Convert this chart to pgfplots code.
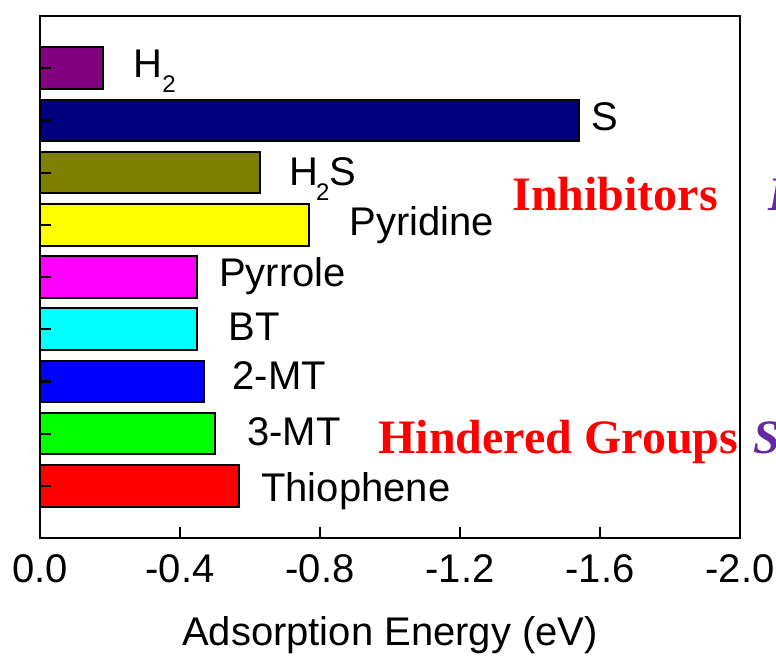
\documentclass[border=0pt]{standalone}
\usepackage{fontspec}
\setmainfont{Liberation Sans}
\newfontfamily\timesf{Liberation Serif}
\usepackage{pgfplots}
\pgfplotsset{compat=1.18}
\definecolor{cHtwo}{RGB}{128,0,128}
\definecolor{cS}{RGB}{0,0,128}
\definecolor{cHtwoS}{RGB}{128,128,0}
\definecolor{cPyd}{RGB}{255,255,0}
\definecolor{cPyr}{RGB}{255,0,255}
\definecolor{cBT}{RGB}{0,255,255}
\definecolor{cTwoMT}{RGB}{0,0,255}
\definecolor{cThreeMT}{RGB}{0,255,0}
\definecolor{cTh}{RGB}{255,0,0}
\definecolor{cPurple}{RGB}{100,40,160}
\newcommand{\sub}[1]{\raisebox{-7.5pt}{\fontsize{12}{14}\selectfont #1}}
\begin{document}
\fontsize{20}{24}\selectfont
\begin{tikzpicture}
\begin{axis}[
  at={(20pt,58.5pt)}, anchor=south west,
  scale only axis, width=350pt, height=261pt,
  xmin=-2, xmax=0, x dir=reverse,
  ymin=-1, ymax=9,
  xbar, bar width=0.8, bar shift=0pt,
  axis on top=true,
  xtick={-2,-1.6,-1.2,-0.8,-0.4,0},
  xticklabels={-2.0,-1.6,-1.2,-0.8,-0.4,0.0},
  ytick={0,1,2,3,4,5,6,7,8}, yticklabels={},
  tick align=inside, xtick pos=bottom, ytick pos=left,
  major tick length=5.5pt,
  axis line style={line width=1pt},
  tick style={line width=1.1pt, black},
  xticklabel style={anchor=base, yshift=-22pt, font=\fontsize{20}{24}\selectfont},
  xlabel={Adsorption Energy (eV)},
  xlabel style={at={(axis description cs:0.5,0)}, anchor=base, yshift=-53.5pt, font=\fontsize{20}{24}\selectfont},
  clip=false,
]
\addplot[fill=cTh, draw=black, line width=1pt] coordinates {(-0.57,0)};
\addplot[fill=cThreeMT, draw=black, line width=1pt] coordinates {(-0.50,1)};
\addplot[fill=cTwoMT, draw=black, line width=1pt] coordinates {(-0.47,2)};
\addplot[fill=cBT, draw=black, line width=1pt] coordinates {(-0.45,3)};
\addplot[fill=cPyr, draw=black, line width=1pt] coordinates {(-0.45,4)};
\addplot[fill=cPyd, draw=black, line width=1pt] coordinates {(-0.77,5)};
\addplot[fill=cHtwoS, draw=black, line width=1pt] coordinates {(-0.63,6)};
\addplot[fill=cS, draw=black, line width=1pt] coordinates {(-1.54,7)};
\addplot[fill=cHtwo, draw=black, line width=1pt] coordinates {(-0.18,8)};

\node[anchor=base west, inner sep=0] at (axis cs:-0.266,7.83) {H\sub{2}};
\node[anchor=base west, inner sep=0] at (axis cs:-1.574,6.80) {S};
\node[anchor=base west, inner sep=0] at (axis cs:-0.711,5.76) {H\kern-1pt\sub{2}S};
\node[anchor=base west, inner sep=0] at (axis cs:-0.883,4.80) {Pyridine};
\node[anchor=base west, inner sep=0] at (axis cs:-0.511,3.81) {Pyrrole};
\node[anchor=base west, inner sep=0] at (axis cs:-0.537,2.79) {BT};
\node[anchor=base west, inner sep=0] at (axis cs:-0.549,1.84) {2-MT};
\node[anchor=base west, inner sep=0] at (axis cs:-0.591,0.78) {3-MT};
\node[anchor=base west, inner sep=0] at (axis cs:-0.631,-0.31) {Thiophene};

\node[anchor=base west, inner sep=0, text=red, font=\timesf\bfseries\fontsize{24}{28}\selectfont] at (axis cs:-1.349,5.28) {Inhibitors};
\node[anchor=base west, inner sep=0, text=red, font=\timesf\bfseries\fontsize{24}{28}\selectfont] at (axis cs:-0.966,0.628) {Hindered Groups};
\node[anchor=base west, inner sep=0, text=cPurple, font=\timesf\bfseries\itshape\fontsize{24}{28}\selectfont] at (axis cs:-2.08,5.28) {I};
\node[anchor=base west, inner sep=0, text=cPurple, font=\timesf\bfseries\itshape\fontsize{24}{28}\selectfont] at (axis cs:-2.037,0.628) {S};
\end{axis}
\pgfresetboundingbox
\useasboundingbox (0,0) rectangle (388pt,327.5pt);
\end{tikzpicture}
\end{document}
